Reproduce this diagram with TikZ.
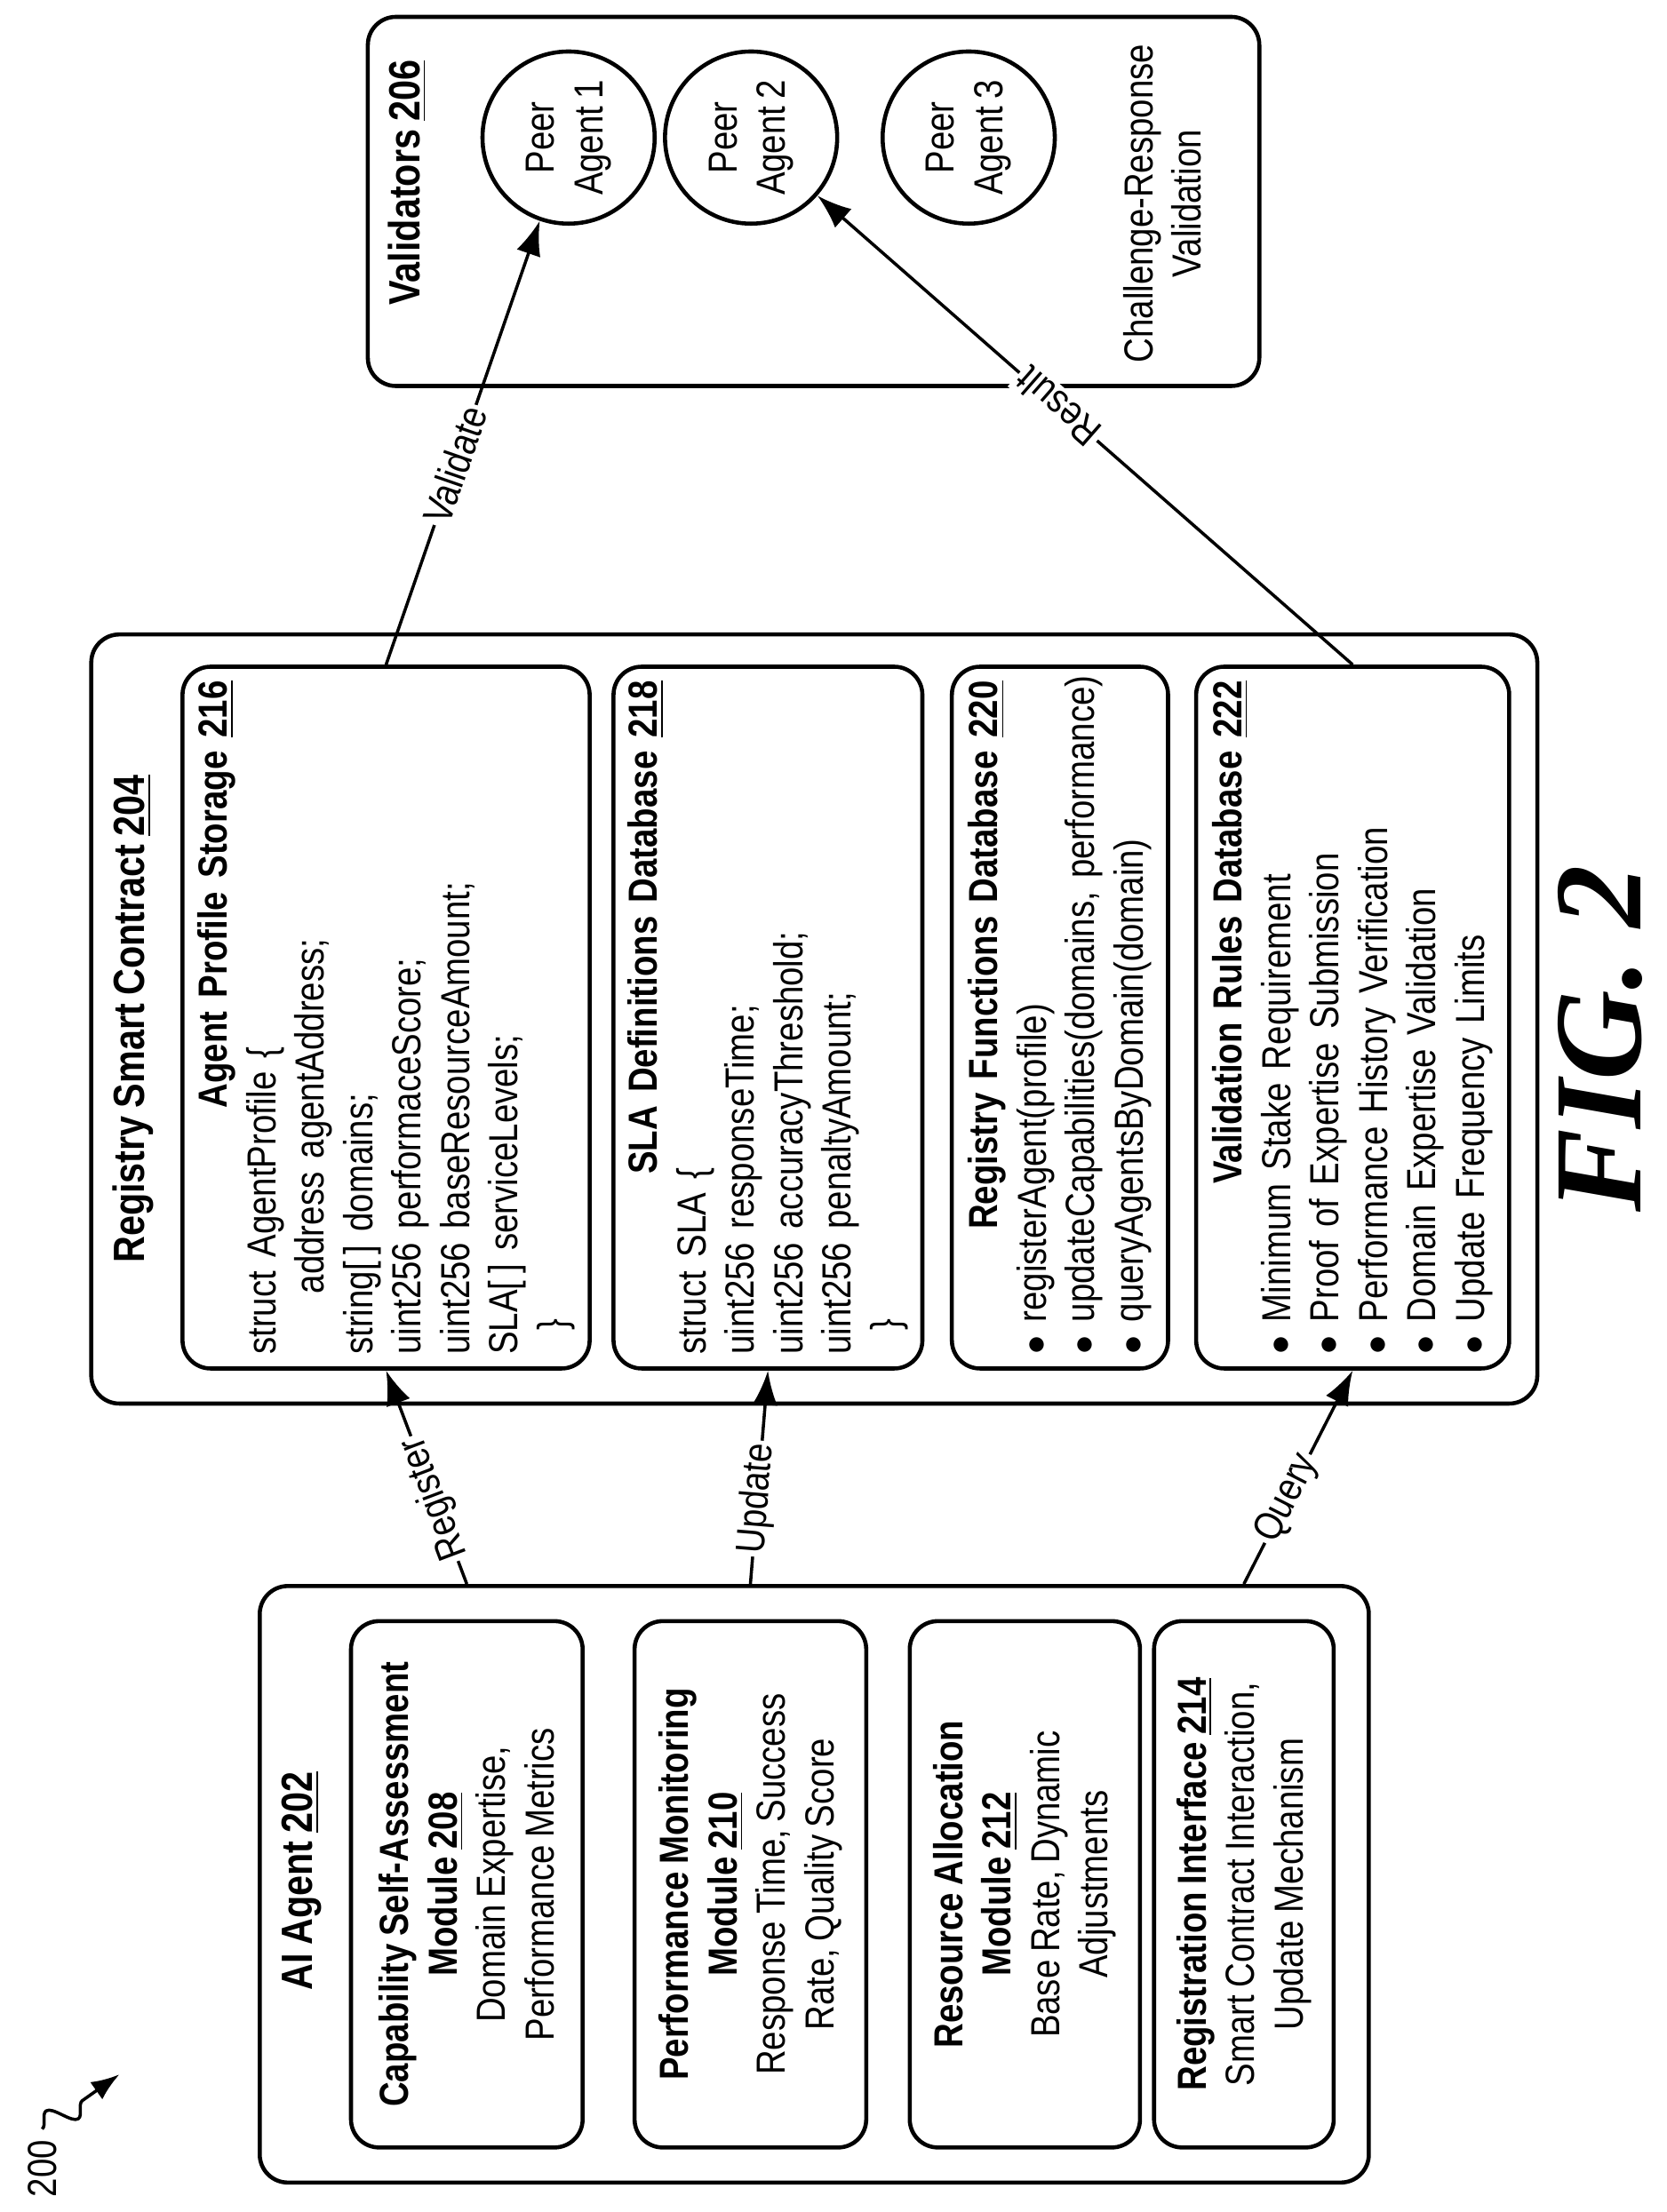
\documentclass[tikz,border=0pt]{standalone}
\usepackage{fontspec}
\setmainfont{Liberation Sans}[FakeStretch=0.84, WordSpace=0.8]
\newfontfamily\figfont{Liberation Serif}
\usetikzlibrary{arrows.meta, decorations.pathmorphing}
\newlength\ul
\setlength\ul{0.0158cm}
\newcommand{\refnum}[1]{\underline{#1}}
\tikzset{
    box/.style={draw, line width=1.3pt, rounded corners=9pt, inner sep=4pt},
    frame/.style={box, rotate=90},
    txt/.style={rotate=90, align=center, font=\fontsize{13}{15.5}\selectfont},
    link/.style={-{Latex[length=11pt,width=8pt]}, line width=1pt},
    tag/.style={midway, sloped, allow upside down, fill=white, inner sep=1pt, font=\fontsize{13}{15.5}\selectfont}
}
\begin{document}
\begin{tikzpicture}[x=\ul, y=\ul, every node/.style={font=\fontsize{13}{15.5}\selectfont}]
\useasboundingbox (0,0) rectangle (1187,-1576);

% AI agent
\node[frame, minimum width=425*\ul, minimum height=790*\ul] (ai) at (580,-1342.5) {};
\node[txt, font=\bfseries\fontsize{14}{16}\selectfont] (aititle) at (215,-1340) {AI Agent \refnum{202}};
\node[box, txt, minimum width=375*\ul, minimum height=165*\ul] (cap) at (332.5,-1342.5)
    {\textbf{Capability Self-Assessment}\\ \textbf{Module \refnum{208}}\\ Domain Expertise,\\ Performance Metrics};
\node[box, txt, minimum width=375*\ul, minimum height=165*\ul] (perf) at (534.5,-1342.5)
    {\textbf{Performance Monitoring}\\ \textbf{Module \refnum{210}}\\ Response Time, Success\\ Rate, Quality Score};
\node[box, txt, minimum width=375*\ul, minimum height=164*\ul] (res) at (730,-1342.5)
    {\textbf{Resource Allocation}\\ \textbf{Module \refnum{212}}\\ Base Rate, Dynamic\\ Adjustments};
\node[box, txt, minimum width=375*\ul, minimum height=128*\ul] (reg) at (886,-1342.5)
    {\textbf{Registration Interface \refnum{214}}\\ Smart Contract Interaction,\\ Update Mechanism};

% registry smart contract
\node[frame, minimum width=548*\ul, minimum height=1030*\ul] (rsc) at (580,-726) {};
\node[txt, font=\bfseries\fontsize{14}{16}\selectfont] (rsctitle) at (95,-726) {Registry Smart Contract \refnum{204}};
\node[box, txt, align=left, text width=480*\ul, minimum width=500*\ul, minimum height=290*\ul] (aps) at (275,-725)
    {\textbf{\hspace*{\fill}Agent Profile Storage \refnum{216}\hspace*{\fill}}\\
     struct AgentProfile \{\\
     \hspace*{1.5em}address agentAddress;\\
     string[\,] domains;\\
     uint256 performaceScore;\\
     uint256 baseResourceAmount;\\
     SLA[\,] serviceLevels;\\
     \hspace*{0.6em}\}};
\node[box, txt, align=left, text width=480*\ul, minimum width=500*\ul, minimum height=220*\ul] (sla) at (547,-725)
    {\textbf{\hspace*{\fill}SLA Definitions Database \refnum{218}\hspace*{\fill}}\\
     struct SLA \{\\
     uint256 responseTime;\\
     uint256 accuracyThreshold;\\
     uint256 penaltyAmount;\\
     \hspace*{0.6em}\}};
\node[box, txt, align=left, text width=480*\ul, minimum width=500*\ul, minimum height=154*\ul] (fun) at (755,-725)
    {\textbf{\hspace*{\fill}Registry Functions Database \refnum{220}\hspace*{\fill}}\\
     $\bullet$ registerAgent(profile)\\
     \mbox{$\bullet$ updateCapabilities(domains, performance)}\\
     $\bullet$ queryAgentsByDomain(domain)};
\node[box, txt, align=left, text width=480*\ul, minimum width=500*\ul, minimum height=223*\ul] (val) at (963.5,-725)
    {\textbf{\hspace*{\fill}Validation Rules Database \refnum{222}\hspace*{\fill}}\\
     $\bullet$ Minimum Stake Requirement\\
     $\bullet$ Proof of Expertise Submission\\
     $\bullet$ Performance History Verification\\
     $\bullet$ Domain Expertise Validation\\
     $\bullet$ Update Frequency Limits};

% validators
\node[frame, minimum width=263*\ul, minimum height=635*\ul] (vdt) at (579.5,-143.5) {};
\node[txt, font=\bfseries\fontsize{14}{16}\selectfont] (vdttitle) at (290,-130) {Validators \refnum{206}};
\node[draw, circle, line width=1.3pt, txt, minimum size=122*\ul] (p1) at (405,-98) {Peer\\ Agent 1};
\node[draw, circle, line width=1.3pt, txt, minimum size=122*\ul] (p2) at (535,-98) {Peer\\ Agent 2};
\node[draw, circle, line width=1.3pt, txt, minimum size=122*\ul] (p3) at (690,-98) {Peer\\ Agent 3};
\node[txt] (crv) at (828,-145) {Challenge-Response\\ Validation};

% connectors
\draw[link] (cap |- ai.east) -- node[tag, pos=0.4] {Register} (aps.west);
\draw[link] (perf |- ai.east) -- node[tag, pos=0.4] {Update} (sla.west);
\draw[link] (reg |- ai.east) -- node[tag, pos=0.4] {Query} (val.west);
\draw[link] (aps.east) -- node[tag, pos=0.45] {Validate} (p1);
\draw[link] (val.east) -- node[tag, pos=0.55] {Result} (p2);

% figure label
\node[rotate=90, font=\figfont\bfseries\itshape\fontsize{40}{44}\selectfont] (fig) at (1140,-740) {FIG. 2};
\node[rotate=90, font=\fontsize{13}{15}\selectfont] (num) at (30,-1545) {200};
\coordinate (numtip) at (85,-1478);
\draw[-{Latex[length=9pt]}, line width=1pt, decorate, decoration={snake, amplitude=4pt, segment length=14pt, post length=10pt}]
    (num.east) -- (numtip);
\end{tikzpicture}
\end{document}
